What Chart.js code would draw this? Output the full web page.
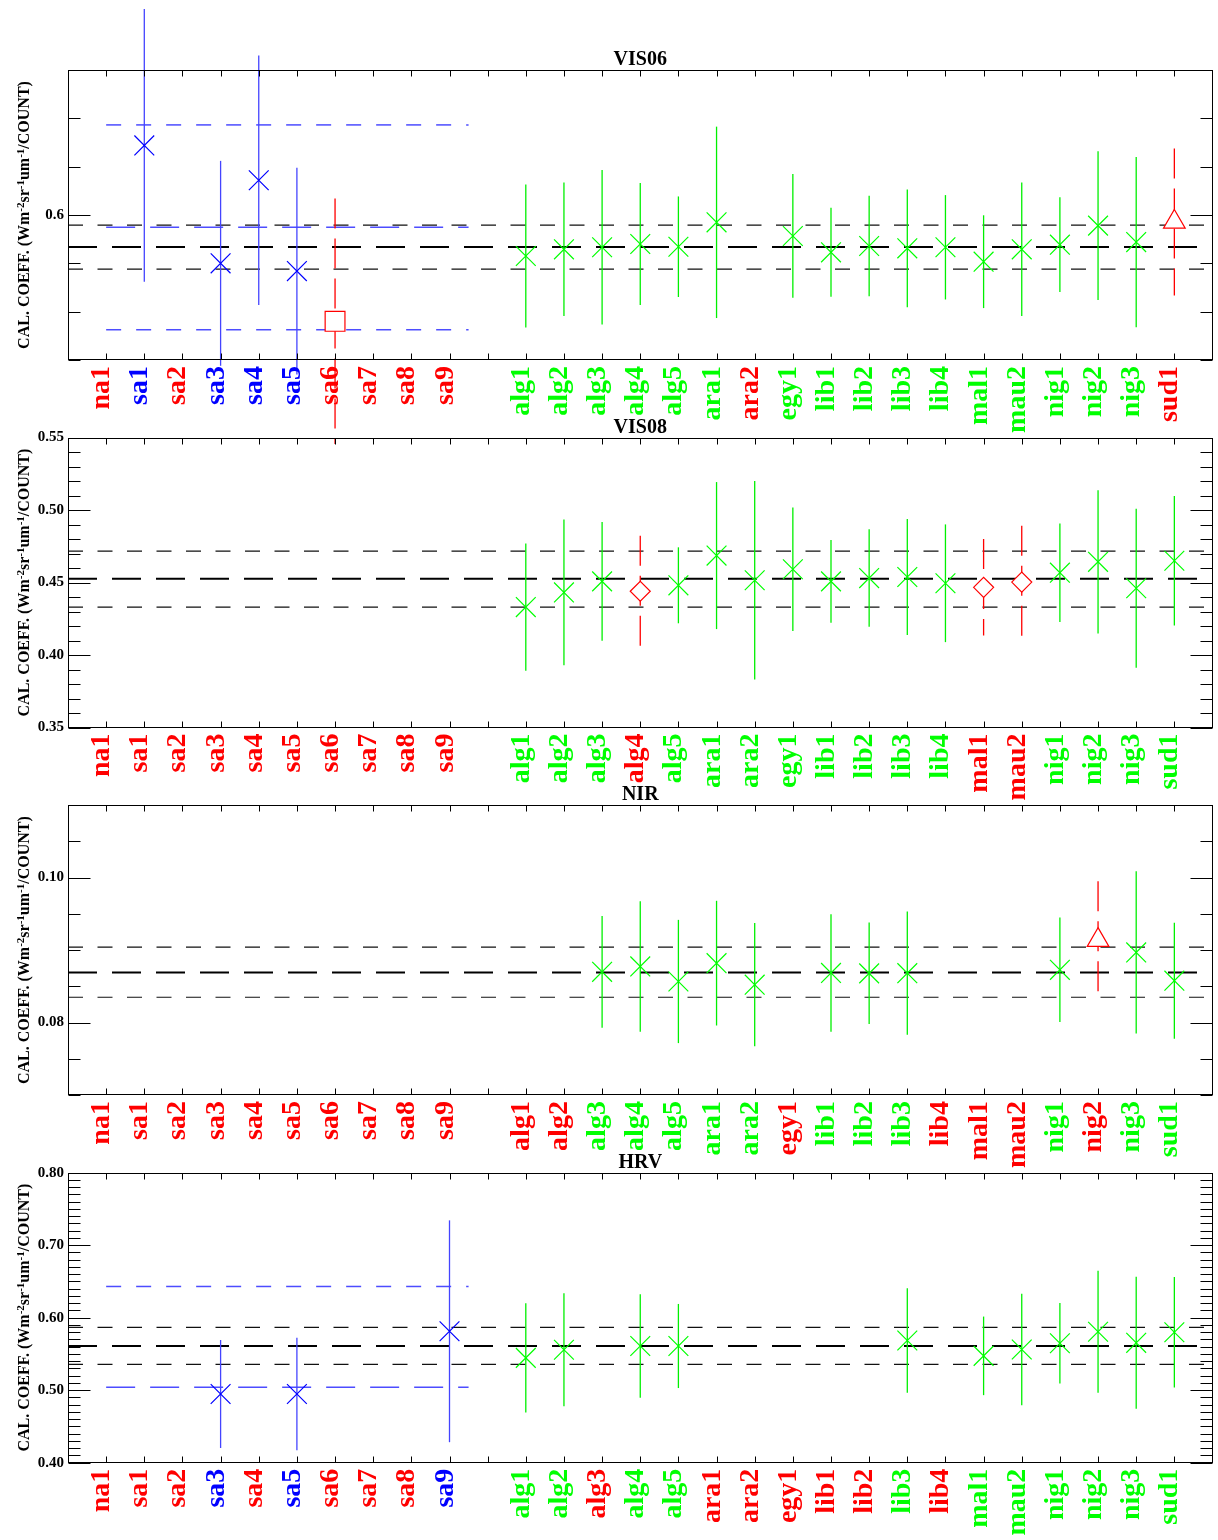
<!DOCTYPE html>
<html>
<head>
<meta charset="utf-8">
<title>Calibration coefficients per site</title>
<script src="https://cdn.jsdelivr.net/npm/chart.js@4.4.1/dist/chart.umd.min.js"></script>
<style>
  html, body { margin: 0; padding: 0; background: #fff; }
  #wrap { position: relative; width: 1218px; height: 1540px; }
  #wrap canvas { position: absolute; left: 0; top: 0; }
</style>
</head>
<body>
<div id="wrap">
  <canvas id="c0" width="1218" height="1540"></canvas>
  <canvas id="c1" width="1218" height="1540"></canvas>
  <canvas id="c2" width="1218" height="1540"></canvas>
  <canvas id="c3" width="1218" height="1540"></canvas>
</div>
<script>
// Sites, x position = index + 1 (slot 11 left empty)
const sites = ['na1', 'sa1', 'sa2', 'sa3', 'sa4', 'sa5', 'sa6', 'sa7', 'sa8', 'sa9', '',
  'alg1', 'alg2', 'alg3', 'alg4', 'alg5', 'ara1', 'ara2', 'egy1', 'lib1', 'lib2', 'lib3', 'lib4',
  'mal1', 'mau2', 'nig1', 'nig2', 'nig3', 'sud1'];

// flags: b = blue cross, g = green cross, r = rejected (no mark), sq/tri/dia = red hollow marks
const vis06Val = [null, 0.672, null, 0.550, 0.636, 0.542, 0.490, null, null, null, null,
  0.5576, 0.5645, 0.5666, 0.5700, 0.5672, 0.5924, null, 0.5783, 0.5614, 0.5679, 0.5655, 0.5666,
  0.5517, 0.5645, 0.5693, 0.5890, 0.5720, 0.5928];
const vis06Err = [null, 0.141, null, 0.106, 0.129, 0.107, 0.127, null, null, null, null,
  0.074, 0.069, 0.080, 0.063, 0.052, 0.099, null, 0.064, 0.046, 0.052, 0.061, 0.054,
  0.048, 0.069, 0.049, 0.077, 0.088, 0.076];
const vis06Flag = ['r', 'b', 'r', 'b', 'b', 'b', 'sq', 'r', 'r', 'r', '',
  'g', 'g', 'g', 'g', 'g', 'g', 'r', 'g', 'g', 'g', 'g', 'g', 'g', 'g', 'g', 'g', 'g', 'tri'];
const vis06Ref = [0.5669, 0.5896, 0.5441];
const vis06BlueRef = [0.5872, 0.6932, 0.4813];
const vis06Ticks = ['0.6'];

const vis08Val = [null, null, null, null, null, null, null, null, null, null, null,
  0.4331, 0.4432, 0.4508, 0.4440, 0.4481, 0.4686, 0.4516, 0.4592, 0.4508, 0.4531, 0.4538, 0.4495,
  0.4467, 0.4503, 0.4568, 0.4643, 0.4461, 0.4650];
const vis08Err = [null, null, null, null, null, null, null, null, null, null, null,
  0.0439, 0.0503, 0.0409, 0.0383, 0.0262, 0.0507, 0.0684, 0.0426, 0.0285, 0.0336, 0.0400, 0.0406,
  0.0333, 0.0388, 0.0340, 0.0494, 0.0548, 0.0447];
const vis08Flag = ['r', 'r', 'r', 'r', 'r', 'r', 'r', 'r', 'r', 'r', '',
  'g', 'g', 'g', 'dia', 'g', 'g', 'g', 'g', 'g', 'g', 'g', 'g', 'dia', 'dia', 'g', 'g', 'g', 'g'];
const vis08Ref = [0.4526, 0.4717, 0.4331];
const vis08Ticks = ['0.35', '0.40', '0.45', '0.50', '0.55'];

const nirVal = [null, null, null, null, null, null, null, null, null, null, null,
  null, null, 0.0870, 0.08775, 0.08567, 0.0882, 0.08523, null, 0.08685, 0.08679, 0.08682, null,
  null, null, 0.08728, 0.09138, 0.08968, 0.08578];
const nirErr = [null, null, null, null, null, null, null, null, null, null, null,
  null, null, 0.0077, 0.0090, 0.0085, 0.0086, 0.0085, null, 0.0081, 0.0070, 0.0085, null,
  null, null, 0.0072, 0.0081, 0.0112, 0.0080];
const nirFlag = ['r', 'r', 'r', 'r', 'r', 'r', 'r', 'r', 'r', 'r', '',
  'r', 'r', 'g', 'g', 'g', 'g', 'g', 'r', 'g', 'g', 'g', 'r', 'r', 'r', 'g', 'tri', 'g', 'g'];
const nirRef = [0.0869, 0.0904, 0.0835];
const nirTicks = ['0.08', '0.10'];

const hrvVal = [null, null, null, 0.4947, null, 0.4947, null, null, null, 0.5812, null,
  0.5445, 0.5557, null, 0.5609, 0.5609, null, null, null, null, null, 0.5685, null,
  0.5473, 0.5560, 0.5647, 0.5805, 0.5653, 0.5799];
const hrvErr = [null, null, null, 0.0745, null, 0.0777, null, null, null, 0.153, null,
  0.0754, 0.0779, null, 0.0715, 0.058, null, null, null, null, null, 0.0722, null,
  0.0542, 0.0768, 0.0556, 0.0841, 0.091, 0.0763];
const hrvFlag = ['r', 'r', 'r', 'b', 'r', 'b', 'r', 'r', 'r', 'b', '',
  'g', 'g', 'r', 'g', 'g', 'r', 'r', 'r', 'r', 'r', 'g', 'r', 'g', 'g', 'g', 'g', 'g', 'g'];
const hrvRef = [0.5610, 0.5867, 0.5355];
const hrvBlueRef = [0.5040, 0.6430, 0.3650];
const hrvTicks = ['0.40', '0.50', '0.60', '0.70', '0.80'];

const blueSpan = [1, 10.5];

const RED = '#ff0000', GREEN = '#00ff00', BLUE = '#0000ff';

const panels = [
  { title: 'VIS06', min: 0.45, max: 0.75, step: 0.05, ticks: vis06Ticks, val: vis06Val, err: vis06Err, flag: vis06Flag, ref: vis06Ref, blue: vis06BlueRef },
  { title: 'VIS08', min: 0.35, max: 0.55, step: 0.01, ticks: vis08Ticks, val: vis08Val, err: vis08Err, flag: vis08Flag, ref: vis08Ref, blue: null },
  { title: 'NIR', min: 0.07, max: 0.11, step: 0.005, ticks: nirTicks, val: nirVal, err: nirErr, flag: nirFlag, ref: nirRef, blue: null },
  { title: 'HRV', min: 0.40, max: 0.80, step: 0.01, ticks: hrvTicks, val: hrvVal, err: hrvErr, flag: hrvFlag, ref: hrvRef, blue: hrvBlueRef }
];

const marks = {
  b: { color: BLUE, style: 'crossRot', r: 14, bar: '#4444ff', dash: [] },
  g: { color: GREEN, style: 'crossRot', r: 14, bar: '#00f000', dash: [] },
  sq: { color: RED, style: 'rect', r: 14, bar: RED, dash: [30, 10] },
  tri: { color: RED, style: 'triangle', r: 12.5, bar: RED, dash: [30, 10] },
  dia: { color: RED, style: 'rectRot', r: 10, bar: RED, dash: [30, 10] }
};

function labelColor(f) {
  if (f === 'b') return BLUE;
  if (f === 'g') return GREEN;
  return RED;
}

const yTitle = [['CAL. COEFF. (Wm', false], ['-2', true], ['sr', false], ['-1', true],
  ['um', false], ['-1', true], ['/COUNT)', false]];

function hline(ctx, x0, y0, x1, y1) {
  ctx.beginPath();
  ctx.moveTo(x0, y0);
  ctx.lineTo(x1, y1);
  ctx.stroke();
}

const deco = {
  id: 'deco',
  beforeDatasetDraw(chart, args) {
    const ds = chart.data.datasets[args.index];
    if (!ds.errs) return;
    const { ctx, scales: { x, y } } = chart;
    ctx.save();
    ctx.strokeStyle = ds.barColor;
    ctx.lineWidth = 1.3;
    ctx.setLineDash(ds.barDash);
    ds.data.forEach((p, i) => {
      const px = x.getPixelForValue(p.x);
      hline(ctx, px, y.getPixelForValue(p.y + ds.errs[i]), px, y.getPixelForValue(p.y - ds.errs[i]));
    });
    ctx.restore();
  },
  afterDraw(chart, args, opts) {
    const p = panels[opts.index];
    const { ctx, chartArea: a, scales: { x, y } } = chart;
    ctx.save();
    ctx.strokeStyle = '#000';
    ctx.lineWidth = 1;
    const L = Math.round(a.left) + 0.5, R = Math.round(a.right) - 0.5;
    const T = Math.round(a.top) + 0.5, B = Math.round(a.bottom) - 0.5;
    ctx.strokeRect(L, T, R - L, B - T);
    // y tick marks, inward on both sides
    y.ticks.forEach(t => {
      const py = Math.round(y.getPixelForValue(t.value)) + 0.5;
      const len = t.label ? 22 : 12;
      hline(ctx, L, py, L + len, py);
      hline(ctx, R - len, py, R, py);
    });
    // x tick marks and labels
    sites.forEach((s, i) => {
      const px = Math.round(x.getPixelForValue(i + 1)) + 0.5;
      hline(ctx, px, T, px, T + 6);
      hline(ctx, px, B - 6, px, B);
    });
    ctx.font = 'bold 28px "Liberation Serif"';
    ctx.textAlign = 'right';
    ctx.textBaseline = 'alphabetic';
    sites.forEach((s, i) => {
      if (!s) return;
      ctx.save();
      ctx.translate(x.getPixelForValue(i + 1) + 3, a.bottom + 6);
      ctx.rotate(-Math.PI / 2);
      ctx.fillStyle = labelColor(p.flag[i]);
      ctx.fillText(s, 0, 0);
      ctx.restore();
    });
    // panel title
    ctx.fillStyle = '#000';
    ctx.font = 'bold 20px "Liberation Serif"';
    ctx.textAlign = 'center';
    ctx.fillText(p.title, (a.left + a.right) / 2, a.top - 5);
    // y axis title with superscripts
    const big = 'bold 16px "Liberation Serif"', small = 'bold 11px "Liberation Serif"';
    let total = 0;
    yTitle.forEach(([t, sup]) => { ctx.font = sup ? small : big; total += ctx.measureText(t).width; });
    ctx.translate(29, (a.top + a.bottom) / 2);
    ctx.rotate(-Math.PI / 2);
    ctx.textAlign = 'left';
    let cx = -total / 2;
    yTitle.forEach(([t, sup]) => {
      ctx.font = sup ? small : big;
      ctx.fillText(t, cx, sup ? -5 : 0);
      cx += ctx.measureText(t).width;
    });
    ctx.restore();
  }
};

panels.forEach((p, k) => {
  const top = 70 + k * 367.55;
  const bottom = top + 290;
  const datasets = [];

  const refLine = (v, x0, x1, color, width, dash) => ({
    data: [{ x: x0, y: v }, { x: x1, y: v }],
    showLine: true, borderColor: color, borderWidth: width, borderDash: dash,
    pointRadius: 0, order: 10
  });
  datasets.push(refLine(p.ref[0], 0, 30, '#000', 2, [29, 15]));
  datasets.push(refLine(p.ref[1], 0, 30, '#111', 1.2, [15, 14.5]));
  datasets.push(refLine(p.ref[2], 0, 30, '#111', 1.2, [15, 14.5]));
  if (p.blue) {
    datasets.push(refLine(p.blue[0], blueSpan[0], blueSpan[1], '#4d4dff', 1.5, [29, 15]));
    datasets.push(refLine(p.blue[1], blueSpan[0], blueSpan[1], '#4d4dff', 1.5, [15, 15]));
    datasets.push(refLine(p.blue[2], blueSpan[0], blueSpan[1], '#4d4dff', 1.5, [15, 15]));
  }

  Object.keys(marks).forEach(key => {
    const m = marks[key];
    const pts = [], errs = [];
    p.flag.forEach((f, i) => {
      if (f === key && p.val[i] != null) {
        pts.push({ x: i + 1, y: p.val[i] });
        errs.push(p.err[i]);
      }
    });
    if (!pts.length) return;
    datasets.push({
      data: pts, errs: errs, barColor: m.bar, barDash: m.dash,
      pointStyle: m.style, pointRadius: m.r, borderColor: m.color, borderWidth: 1.2,
      backgroundColor: '#ffffff', showLine: false, clip: false, order: 0
    });
  });

  new Chart(document.getElementById('c' + k), {
    type: 'scatter',
    data: { datasets },
    options: {
      responsive: false,
      animation: false,
      devicePixelRatio: 1,
      events: [],
      layout: { autoPadding: false, padding: { top: top, bottom: 1540 - bottom, left: 0, right: 5.5 } },
      plugins: { legend: { display: false }, tooltip: { enabled: false }, deco: { index: k } },
      scales: {
        x: { type: 'linear', min: 0, max: 30, display: false },
        y: {
          type: 'linear', min: p.min, max: p.max,
          afterFit(s) { s.width = 68; },
          grid: { display: false, drawTicks: false },
          border: { display: false },
          ticks: {
            stepSize: p.step, autoSkip: false, padding: 4, color: '#000',
            font: { family: 'Liberation Serif', size: 15, weight: 'bold' },
            callback(v) {
              const hit = p.ticks.find(t => Math.abs(parseFloat(t) - v) < p.step / 10);
              return hit || '';
            }
          }
        }
      }
    },
    plugins: [deco]
  });
});
</script>
</body>
</html>
